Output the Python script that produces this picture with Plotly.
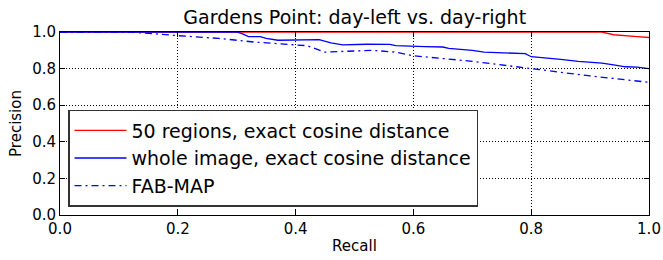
import plotly.graph_objects as go

recall_red = [0.0, 0.5, 0.92, 0.94, 0.96, 0.98, 1.0]
prec_red = [1.0, 1.0, 1.0, 0.985, 0.978, 0.975, 0.97]

recall_blue = [0.0, 0.30, 0.31, 0.32, 0.34, 0.35, 0.37, 0.40, 0.44, 0.46, 0.48, 0.52, 0.56, 0.57, 0.60, 0.62, 0.65, 0.66, 0.68, 0.70, 0.72, 0.76, 0.79, 0.80, 0.82, 0.85, 0.88, 0.92, 0.94, 0.96, 0.98, 1.0]
prec_blue = [1.0, 1.0, 0.99, 0.975, 0.975, 0.965, 0.955, 0.955, 0.958, 0.94, 0.93, 0.933, 0.932, 0.925, 0.924, 0.92, 0.918, 0.91, 0.905, 0.9, 0.89, 0.885, 0.882, 0.865, 0.86, 0.85, 0.84, 0.83, 0.82, 0.81, 0.808, 0.8]

recall_fab = [0.0, 0.12, 0.2, 0.27, 0.33, 0.38, 0.42, 0.45, 0.50, 0.53, 0.57, 0.60, 0.70, 0.80, 0.90, 1.0]
prec_fab = [1.0, 1.0, 0.98, 0.965, 0.945, 0.935, 0.925, 0.89, 0.895, 0.9, 0.89, 0.87, 0.84, 0.8, 0.76, 0.725]

fig = go.Figure()
fig.add_trace(go.Scatter(x=recall_red, y=prec_red, mode="lines", name="50 regions, exact cosine distance",
                         line=dict(color="red", width=1.3)))
fig.add_trace(go.Scatter(x=recall_blue, y=prec_blue, mode="lines", name="whole image, exact cosine distance",
                         line=dict(color="blue", width=1.3)))
fig.add_trace(go.Scatter(x=recall_fab, y=prec_fab, mode="lines", name="FAB-MAP",
                         line=dict(color="blue", width=1.3, dash="7px,4px,2px,4px")))

axis_common = dict(range=[0, 1], showgrid=True, gridcolor="black", griddash="1px,2px", gridwidth=1,
                   showline=True, linecolor="black", linewidth=1, mirror="ticks",
                   ticks="inside", ticklen=5, tickcolor="black", zeroline=False, automargin=False,
                   tickfont=dict(size=15, color="black"), tickformat=".1f", dtick=0.2)

fig.update_layout(
    width=663, height=260,
    margin=dict(l=60, r=14, t=32, b=45),
    paper_bgcolor="white", plot_bgcolor="white",
    font=dict(family="DejaVu Sans", color="black"),
    title=dict(text="Gardens Point: day-left vs. day-right", x=0.535, xanchor="center",
               y=0.933, yanchor="middle", font=dict(size=19, color="black"), automargin=False),
    xaxis=dict(**axis_common, title=dict(text="Recall", font=dict(size=15), standoff=3)),
    yaxis=dict(**axis_common, title=dict(text="Precision", font=dict(size=15), standoff=6)),
    legend=dict(x=0.0136, y=0.044, xanchor="left", yanchor="bottom", bgcolor="white",
                bordercolor="#333333", borderwidth=1.5, font=dict(size=19, color="black"),
                tracegroupgap=0, itemwidth=52),
    showlegend=True,
)

fig.write_html("out.html", config={"displayModeBar": False},
               post_script="document.body.style.margin='0px';")
